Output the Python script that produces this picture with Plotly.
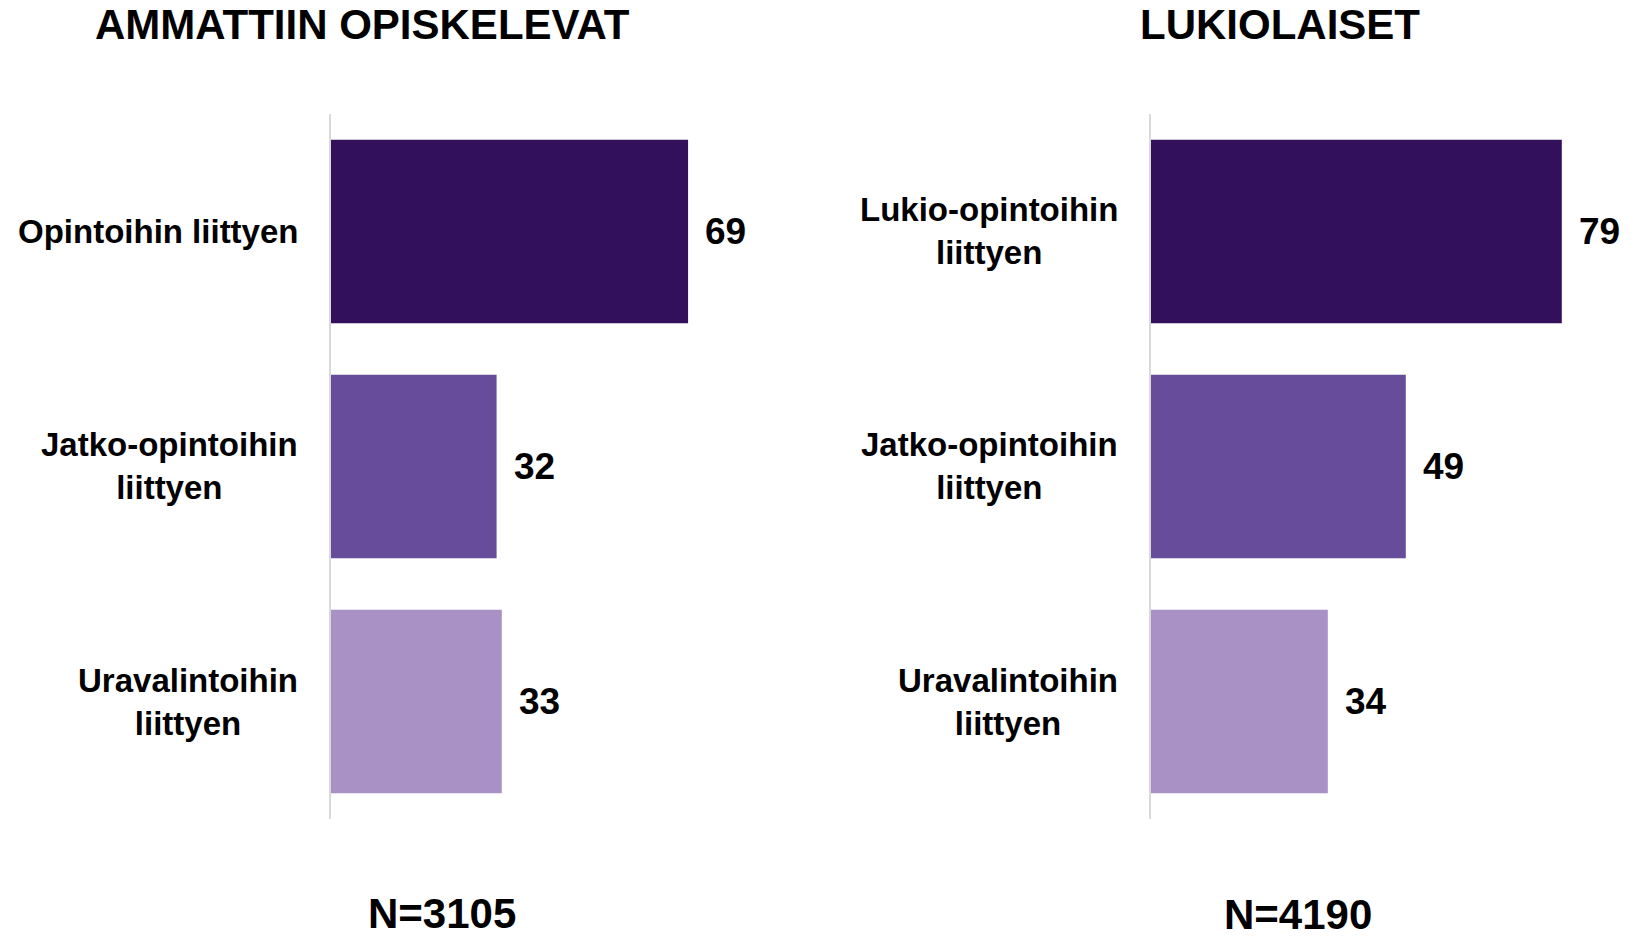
import plotly.graph_objects as go

# ---- data ----
titles = ["AMMATTIIN OPISKELEVAT", "LUKIOLAISET"]
n_labels = ["N=3105", "N=4190"]

cats_amm = ["Opintoihin liittyen", "Jatko-opintoihin liittyen", "Uravalintoihin liittyen"]
labels_amm = ["Opintoihin liittyen", "Jatko-opintoihin<br>liittyen", "Uravalintoihin<br>liittyen"]
vals_amm = [69, 32, 33]

cats_luk = ["Lukio-opintoihin liittyen", "Jatko-opintoihin liittyen", "Uravalintoihin liittyen"]
labels_luk = ["Lukio-opintoihin<br>liittyen", "Jatko-opintoihin<br>liittyen", "Uravalintoihin<br>liittyen"]
vals_luk = [79, 49, 34]

bar_colors = ["#32105c", "#684c9c", "#a991c6"]

W, H = 1650, 938
FONT = "Liberation Sans, Arial, sans-serif"
NARROW = "Liberation Sans Narrow, Arial Narrow, Liberation Sans, sans-serif"

# panel geometry (pixels)
left_axis_px, right_axis_px = 331, 1151
left_w, right_w = 414, 416
y_top_px, y_bot_px = 114, 819
xmax = 80

def px_x(p):
    return p / W

def px_y(p):
    return 1 - p / H

fig = go.Figure()

panels = [
    dict(cats=cats_amm, labels=labels_amm, vals=vals_amm, xa="x", ya="y",
         axis_px=left_axis_px, w=left_w),
    dict(cats=cats_luk, labels=labels_luk, vals=vals_luk, xa="x2", ya="y2",
         axis_px=right_axis_px, w=right_w),
]

annotations = []
for i, p in enumerate(panels):
    fig.add_trace(go.Bar(
        x=p["vals"], y=p["cats"], orientation="h",
        marker=dict(color=bar_colors, line=dict(width=0)),
        width=0.78, xaxis=p["xa"], yaxis=p["ya"],
        hoverinfo="x+y", showlegend=False,
    ))
    for cat, lab, v in zip(p["cats"], p["labels"], p["vals"]):
        annotations.append(dict(
            x=px_x(p["axis_px"] - 31), xref="paper", xanchor="right",
            y=cat, yref=p["ya"], yanchor="middle",
            text=f"<b>{lab}</b>", showarrow=False, align="center",
            font=dict(family=FONT, size=33, color="#000000"),
        ))
        annotations.append(dict(
            x=v, xref=p["xa"], xanchor="left", xshift=15,
            y=cat, yref=p["ya"], yanchor="middle",
            text=f"<b>{v}</b>", showarrow=False,
            font=dict(family=FONT, size=37, color="#000000"),
        ))

# titles
annotations.append(dict(x=px_x(362), y=px_y(25), xref="paper", yref="paper",
                        xanchor="center", yanchor="middle", showarrow=False,
                        text=f"<b>{titles[0]}</b>",
                        font=dict(family=NARROW, size=42, color="#000000")))
annotations.append(dict(x=px_x(1280), y=px_y(25), xref="paper", yref="paper",
                        xanchor="center", yanchor="middle", showarrow=False,
                        text=f"<b>{titles[1]}</b>",
                        font=dict(family=NARROW, size=42, color="#000000")))
# N labels
annotations.append(dict(x=px_x(442), y=px_y(913), xref="paper", yref="paper",
                        xanchor="center", yanchor="middle", showarrow=False,
                        text=f"<b>{n_labels[0]}</b>",
                        font=dict(family=FONT, size=42, color="#000000")))
annotations.append(dict(x=px_x(1298), y=px_y(914), xref="paper", yref="paper",
                        xanchor="center", yanchor="middle", showarrow=False,
                        text=f"<b>{n_labels[1]}</b>",
                        font=dict(family=FONT, size=42, color="#000000")))

ydom = [px_y(y_bot_px), px_y(y_top_px)]
common_y = dict(domain=ydom, range=[2.5, -0.5], showticklabels=False, ticks="",
                showgrid=False, zeroline=False, showline=True,
                linecolor="#d9d9d9", linewidth=2, fixedrange=True)
common_x = dict(range=[0, xmax], visible=False, showgrid=False, zeroline=False,
                fixedrange=True)

fig.update_layout(
    width=W, height=H,
    margin=dict(l=0, r=0, t=0, b=0),
    paper_bgcolor="#ffffff", plot_bgcolor="#ffffff",
    xaxis=dict(domain=[px_x(left_axis_px), px_x(left_axis_px + left_w)], anchor="y", **common_x),
    yaxis=dict(anchor="x", type="category", **common_y),
    xaxis2=dict(domain=[px_x(right_axis_px), px_x(right_axis_px + right_w)], anchor="y2", **common_x),
    yaxis2=dict(anchor="x2", type="category", **common_y),
    annotations=annotations,
    bargap=0.22,
)

fig.write_html("out.html", config={"displayModeBar": False},
               post_script="document.body.style.margin='0px';document.body.style.overflow='hidden';")
